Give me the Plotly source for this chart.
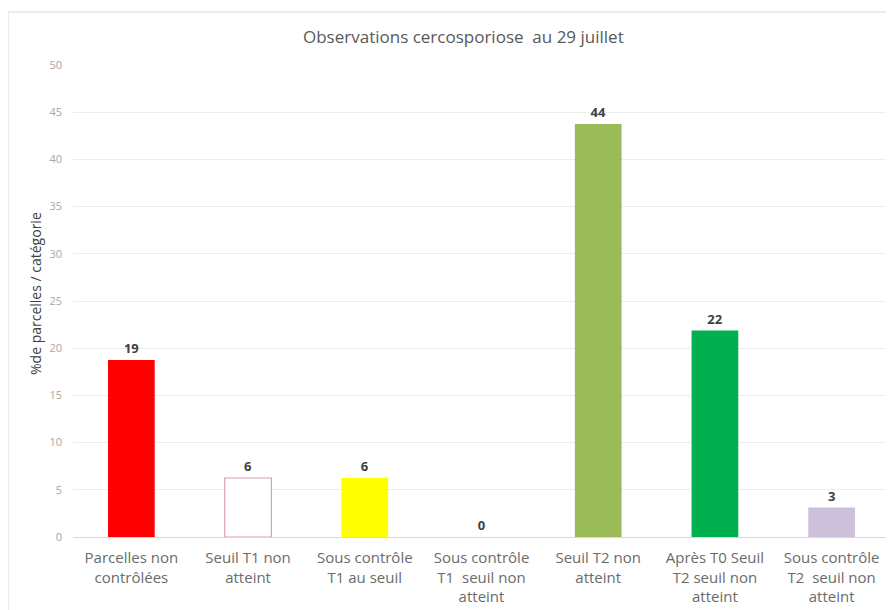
import plotly.graph_objects as go

categories = [
    "Parcelles non<br>contrôlées",
    "Seuil T1 non<br>atteint",
    "Sous contrôle<br>T1 au seuil",
    "Sous contrôle<br>T1  seuil non<br>atteint",
    "Seuil T2 non<br>atteint",
    "Après T0 Seuil<br>T2 seuil non<br>atteint",
    "Sous contrôle<br>T2  seuil non<br>atteint",
]
values = [18.75, 6.25, 6.25, 0, 43.75, 21.875, 3.125]
bar_colors = ["#FF0000", "#FFFFFF", "#FFFF00", "#FFFFFF", "#9BBB59", "#00B050", "#CCC0DA"]
line_colors = ["#FF0000", "#D9A0A8", "#FFFF00", "#FFFFFF", "#9BBB59", "#00B050", "#CCC0DA"]
line_widths = [0, 1.2, 0, 0, 0, 0, 0]
y_ticks = [0, 5, 10, 15, 20, 25, 30, 35, 40, 45, 50]

# page offset (body margin) and plot area in page pixels
OFF = 8
PL, PR, PT, PB = 73, 890, 65, 537
W, H = 894, 610
PW, PH = PR - PL, PB - PT


def px(xp):
    return (xp - PL) / PW


def py(yp):
    return (PB - yp) / PH


fig = go.Figure()
fig.add_trace(go.Bar(
    x=categories,
    y=values,
    marker=dict(color=bar_colors, line=dict(color=line_colors, width=line_widths)),
    texttemplate="<b>%{y:.0f}</b>",
    textposition="outside",
    textfont=dict(family="Open Sans", size=13, color="#404040"),
    cliponaxis=False,
))

fig.update_layout(
    width=W, height=H,
    margin=dict(l=PL - OFF, r=W - (PR - OFF), t=PT - OFF, b=H - (PB - OFF)),
    paper_bgcolor="white", plot_bgcolor="white",
    bargap=0.6,
    showlegend=False,
    font=dict(family="Open Sans"),
    xaxis=dict(
        tickfont=dict(family="Open Sans", size=15, color="#6b6b6b"),
        showgrid=False, showline=False, ticks="", ticklabelstandoff=10,
    ),
    yaxis=dict(
        range=[0, 50], tickvals=y_ticks,
        tickfont=dict(family="Open Sans", size=11, color="#A6A6A6"),
        showgrid=True, gridcolor="#EDEDED", gridwidth=1,
        zeroline=True, zerolinecolor="#D9D9D9", zerolinewidth=1,
        showline=False, ticks="", ticklabelstandoff=10,
    ),
    annotations=[
        dict(text="Observations cercosporiose  au 29 juillet",
             xref="paper", yref="paper", x=px(463), y=py(37),
             xanchor="center", yanchor="middle", showarrow=False,
             font=dict(family="Open Sans", size=17, color="#595959")),
        dict(text="%de parcelles / catégorie",
             xref="paper", yref="paper", x=px(35), y=py(294),
             xanchor="center", yanchor="middle", textangle=-90, showarrow=False,
             font=dict(family="Open Sans", size=14, color="#404040")),
    ],
    shapes=[
        dict(type="rect", xref="paper", yref="paper",
             x0=px(8), x1=px(892),
             y0=py(615), y1=py(12),
             line=dict(color="#D9D9D9", width=1), fillcolor="rgba(0,0,0,0)",
             layer="below"),
    ],
)

fig.write_html("out.html")
